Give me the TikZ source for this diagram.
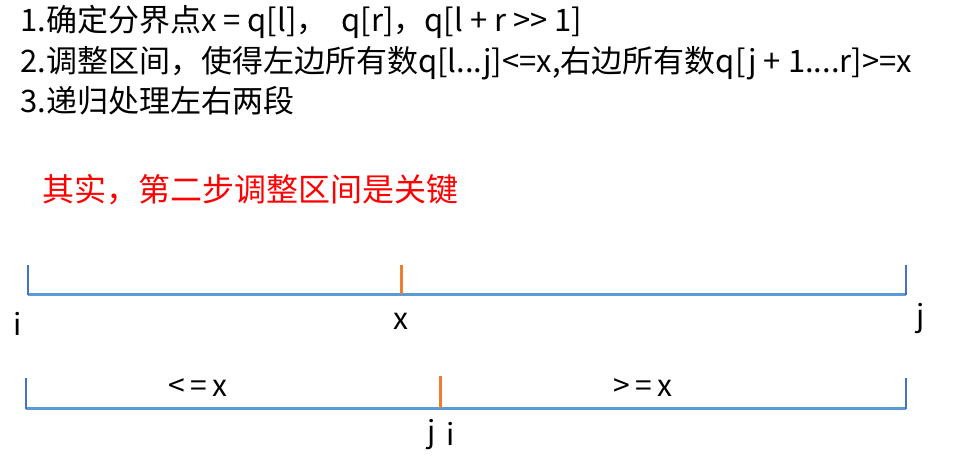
\documentclass[tikz,border=0pt]{standalone}
\usepackage{fontspec}
\setmainfont{Noto Sans CJK SC}
\usetikzlibrary{positioning}

\definecolor{lineblue}{RGB}{91,155,213}
\definecolor{tickblue}{RGB}{68,114,196}
\definecolor{pivot}{RGB}{237,125,49}

\begin{document}
\begin{tikzpicture}[x=1pt, y=-1pt,
    step text/.style={anchor=west, inner sep=0pt, font=\fontsize{31}{34}\selectfont},
    mark text/.style={inner sep=0pt, font=\fontsize{30}{34}\selectfont},
    range line/.style={lineblue, line width=3pt},
    end tick/.style={tickblue, line width=1.5pt},
    mid tick/.style={pivot, line width=3pt}]
    \useasboundingbox (0,0) rectangle (963,460);
    % Steps:
    \node[step text] (s1) at (20,22) {1.确定分界点x = q[l]，\ \ q[r]，q[l + r >{}> 1]};
    \node[step text] (s2) at (20,63) {2.调整区间，使得左边所有数q[l...j]<=x,右边所有数q[j + 1....r]>=x};
    \node[step text] (s3) at (20,101) {3.递归处理左右两段};
    \node[step text, red, font=\fontsize{32}{36}\selectfont] (key) at (42,190) {其实，第二步调整区间是关键};
    % First range:
    \draw[range line] (28,294) -- (906,294);
    \draw[end tick] (28,265) -- (28,295);
    \draw[end tick] (906,265) -- (906,295);
    \draw[mid tick] (401,265) -- (401,294);
    \node[mark text] (i1) at (18,324) {i};
    \node[mark text] (x1) at (401,321) {x};
    \node[mark text] (j1) at (921,319) {j};
    % Second range:
    \draw[range line] (26,408) -- (906,408);
    \draw[end tick] (26,378) -- (26,409);
    \draw[end tick] (906,378) -- (906,409);
    \draw[mid tick] (440,376) -- (440,408);
    \node[mark text] (le) at (198,388) {<\,=\,x};
    \node[mark text] (ge) at (643,388) {>\,=\,x};
    \node[mark text] (j2) at (432,434) {j};
    \node[mark text] (i2) at (451,434) {i};
\end{tikzpicture}
\end{document}
